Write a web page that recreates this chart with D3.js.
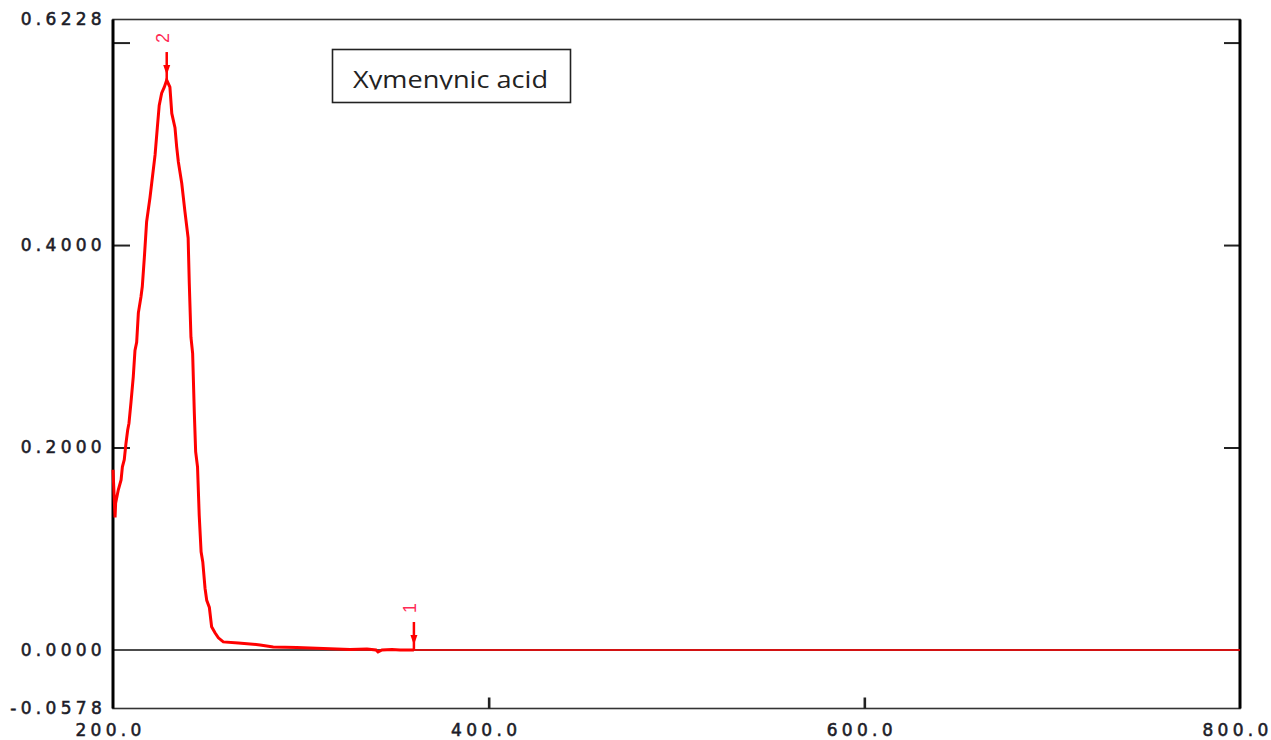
<!DOCTYPE html>
<html>
<head>
<meta charset="utf-8">
<script src="https://cdn.jsdelivr.net/npm/d3@7"></script>
<style>
  body { margin:0; background:#fff; }
  svg { display:block; }
</style>
</head>
<body>
<svg id="chart" width="1271" height="740"></svg>
<script>
// spectrum
var wavelength = [200.0,201.1,201.4,202.8,204.3,205.0,206.0,206.9,207.8,208.5,209.6,210.8,211.7,212.6,213.5,214.9,215.6,216.7,217.9,219.7,220.6,222.4,223.6,224.6,225.9,227.3,228.6,230.3,231.3,233.0,233.9,234.8,236.6,238.3,240.0,240.6,241.5,242.4,243.3,244.0,245.0,245.9,246.9,247.8,249.0,249.9,251.3,252.5,254.3,256.1,258.7,266.7,278.3,285.3,297.8,326.2,335.2,340.0,341.1,343.2,348.5,352.8,360.2];
var absorb = [0.178,0.131,0.145,0.158,0.168,0.181,0.188,0.204,0.217,0.224,0.245,0.270,0.296,0.304,0.333,0.349,0.359,0.388,0.423,0.447,0.461,0.489,0.516,0.538,0.550,0.556,0.563,0.556,0.530,0.516,0.497,0.482,0.461,0.433,0.407,0.363,0.309,0.293,0.234,0.196,0.181,0.133,0.097,0.087,0.061,0.049,0.042,0.023,0.017,0.012,0.008,0.007,0.005,0.003,0.0025,0.0005,0.001,0.0,-0.002,0.0,0.0005,0.0,0.0];
// flat baseline after the last peak
var baseNm = [360.2, 800];
var baseAbs = [0.0, 0.0];

// peak picks
var peakNo = ["2","1"];
var peakNm = [228.6, 360.2];
var peakAbs = [0.563, 0.0];

var yLabels = [-0.0578, 0.0, 0.2, 0.4, 0.6228];
var yTicks = [0.2, 0.4, 0.6];
var xLabels = [200, 400, 600, 800];
var xTicks = [400, 600];

var title = "Xymenynic acid";

var svg = d3.select("#chart");

var x = d3.scaleLinear().domain([200, 800]).range([113, 1240]);
var y = d3.scaleLinear().domain([-0.0578, 0.6228]).range([708.5, 19.5]);

// frame
svg.append("rect")
  .attr("x", x(200)).attr("y", y(0.6228))
  .attr("width", x(800)-x(200)).attr("height", y(-0.0578)-y(0.6228))
  .attr("fill", "none").attr("stroke", "#333").attr("stroke-width", 1.6);

// zero line
svg.append("line")
  .attr("x1", x(200)).attr("x2", x(800))
  .attr("y1", y(0)).attr("y2", y(0))
  .attr("stroke", "#111").attr("stroke-width", 1.5);

// inner ticks
function inner(g){
  g.select(".domain").remove();
  g.selectAll(".tick line").attr("stroke", "#222").attr("stroke-width", 2);
}
svg.append("g").attr("transform", "translate(" + x(200) + ",0)")
  .call(d3.axisRight(y).tickValues(yTicks).tickSize(17).tickFormat(""))
  .call(inner);
svg.append("g").attr("transform", "translate(" + x(800) + ",0)")
  .call(d3.axisLeft(y).tickValues(yTicks).tickSize(16).tickFormat(""))
  .call(inner);
svg.append("g").attr("transform", "translate(0," + y(-0.0578) + ")")
  .call(d3.axisTop(x).tickValues(xTicks).tickSize(11).tickFormat(""))
  .call(function(g){ inner(g); g.selectAll(".tick line").attr("stroke-width", 2.6); });

// labels
var yAx = svg.append("g").attr("transform", "translate(" + x(200) + ",0)")
  .call(d3.axisLeft(y).tickValues(yLabels).tickSize(0).tickPadding(7)
    .tickFormat(function(d){ return d.toFixed(4); }));
yAx.select(".domain").remove();
yAx.selectAll("text")
  .attr("font-family", "DejaVu Sans").attr("font-size", 17)
  .attr("letter-spacing", "4.3px").attr("fill", "#1c1c28")
  .attr("stroke", "#1c1c28").attr("stroke-width", 0.55);

var xAx = svg.append("g").attr("transform", "translate(0," + y(-0.0578) + ")")
  .call(d3.axisBottom(x).tickValues(xLabels).tickSize(0).tickPadding(15)
    .tickFormat(function(d){ return d.toFixed(1); }));
xAx.select(".domain").remove();
xAx.selectAll("text")
  .attr("font-family", "DejaVu Sans").attr("font-size", 17)
  .attr("letter-spacing", "4.3px").attr("fill", "#1c1c28").attr("dx", -3)
  .attr("stroke", "#1c1c28").attr("stroke-width", 0.55);

// thick side borders
svg.append("line").attr("x1", x(200)).attr("x2", x(200))
  .attr("y1", y(0.6228)).attr("y2", y(-0.0578))
  .attr("stroke", "#000").attr("stroke-width", 3);
svg.append("line").attr("x1", x(800)).attr("x2", x(800))
  .attr("y1", y(0.6228)).attr("y2", y(-0.0578))
  .attr("stroke", "#000").attr("stroke-width", 3);

// spectrum
var line = d3.line().x(function(d){ return x(d[0]); }).y(function(d){ return y(d[1]); });
var pts = wavelength.map(function(w, i){ return [w, absorb[i]]; });
var basePts = baseNm.map(function(w, i){ return [w, baseAbs[i]]; });

svg.append("path").datum(basePts).attr("d", line)
  .attr("fill", "none").attr("stroke", "#ff0000").attr("stroke-width", 1.5);
svg.append("path").datum(pts).attr("d", line)
  .attr("fill", "none").attr("stroke", "#ff0000").attr("stroke-width", 3);

// peak markers
peakNm.forEach(function(w, i){
  var px = x(w), py = y(peakAbs[i]);
  svg.append("line").attr("x1", px).attr("x2", px)
    .attr("y1", py - 28).attr("y2", py)
    .attr("stroke", "#ff0000").attr("stroke-width", 2.5);
  svg.append("path")
    .attr("d", "M" + (px-3.5) + "," + (py-15) + "L" + (px+3.5) + "," + (py-15) + "L" + px + "," + (py-5) + "Z")
    .attr("fill", "#ff0000");
  svg.append("text")
    .attr("transform", "translate(" + (px-4) + "," + (py-42) + ") rotate(-90)")
    .attr("text-anchor", "middle").attr("dy", "0.35em")
    .attr("font-family", "Liberation Sans").attr("font-size", 18)
    .attr("fill", "#ff2a55")
    .text(peakNo[i]);
});

// title box
svg.append("rect").attr("x", 332.5).attr("y", 49.5).attr("width", 238).attr("height", 53)
  .attr("fill", "#fff").attr("stroke", "#222").attr("stroke-width", 1.6);
svg.append("clipPath").attr("id", "tclip")
  .append("rect").attr("x", 334).attr("y", 51).attr("width", 235).attr("height", 38.5);
svg.append("text")
  .attr("x", 353).attr("y", 87.5)
  .attr("clip-path", "url(#tclip)")
  .attr("font-family", "Open Sans").attr("font-size", 24)
  .attr("textLength", 195).attr("lengthAdjust", "spacingAndGlyphs")
  .attr("fill", "#222")
  .text(title);
</script>
</body>
</html>
